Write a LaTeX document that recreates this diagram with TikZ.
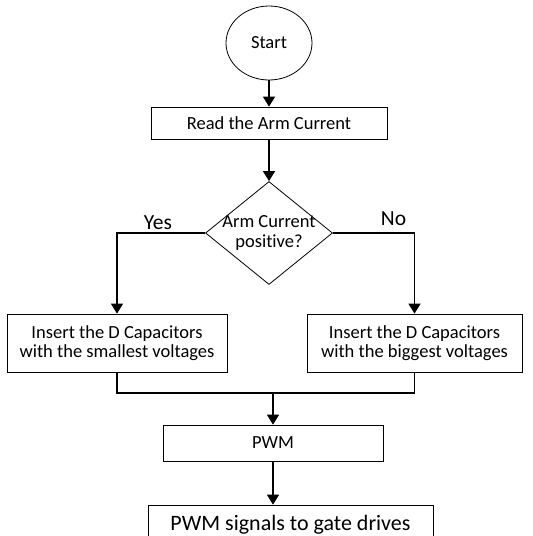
\documentclass[tikz,border=0pt]{standalone}
\usepackage{fontspec}
\setmainfont{Carlito}[Ligatures={NoCommon}]
\usetikzlibrary{shapes.geometric,arrows.meta}

\tikzset{
  box/.style={draw, line width=0.8pt, inner sep=2pt, align=center,
    font=\fontsize{18.5}{19.5}\selectfont},
  flow/.style={line width=1.6pt, -{Triangle[width=12pt,length=10pt]}},
  wire/.style={line width=1.6pt},
  tag/.style={font=\fontsize{21.5}{23}\selectfont}
}

\begin{document}
\begin{tikzpicture}[x=1pt,y=-1pt]
  \useasboundingbox (0,0) rectangle (533,536);
  \clip (0,0) rectangle (533,536);

  % BLOCS
  \node[box, ellipse, minimum width=86, minimum height=74, inner sep=0] (start) at (269,43) {Start};
  \node[box, minimum width=236, minimum height=32] (read) at (269,123) {Read the Arm Current};
  \node[draw, line width=0.8pt, diamond, minimum width=127, minimum height=103, inner sep=0] (check) at (269,233) {};
  \node[box, draw=none] (checktext) at (269,233) {Arm Current\\positive?};
  \node[box, minimum width=220, minimum height=58] (smallest) at (117,343) {Insert the D Capacitors\\with the smallest voltages};
  \node[box, minimum width=215, minimum height=58] (biggest) at (414.5,343) {Insert the D Capacitors\\with the biggest voltages};
  \node[box, minimum width=220, minimum height=36] (pwm) at (273,443) {PWM};
  \node[box, minimum width=285, minimum height=40, font=\fontsize{22}{24}\selectfont] (gate) at (290.5,525) {PWM signals to gate drives};

  % ETIQUETTES
  \node[tag] (yes) at (158,223) {Yes};
  \node[tag] (no) at (393.5,219) {No};

  \coordinate (join) at (273,393);

  % FLECHES
  \draw[flow] (start) -- (read);
  \draw[flow] (read) -- (check);
  \draw[flow] (check.west) -| (smallest.north);
  \draw[flow] (check.east) -| (biggest.north);
  \draw[wire] (smallest.south) |- (join) -| (biggest.south);
  \draw[flow] (join) -- (pwm);
  \draw[flow] (pwm) -- (pwm.south |- gate.north);
\end{tikzpicture}
\end{document}
